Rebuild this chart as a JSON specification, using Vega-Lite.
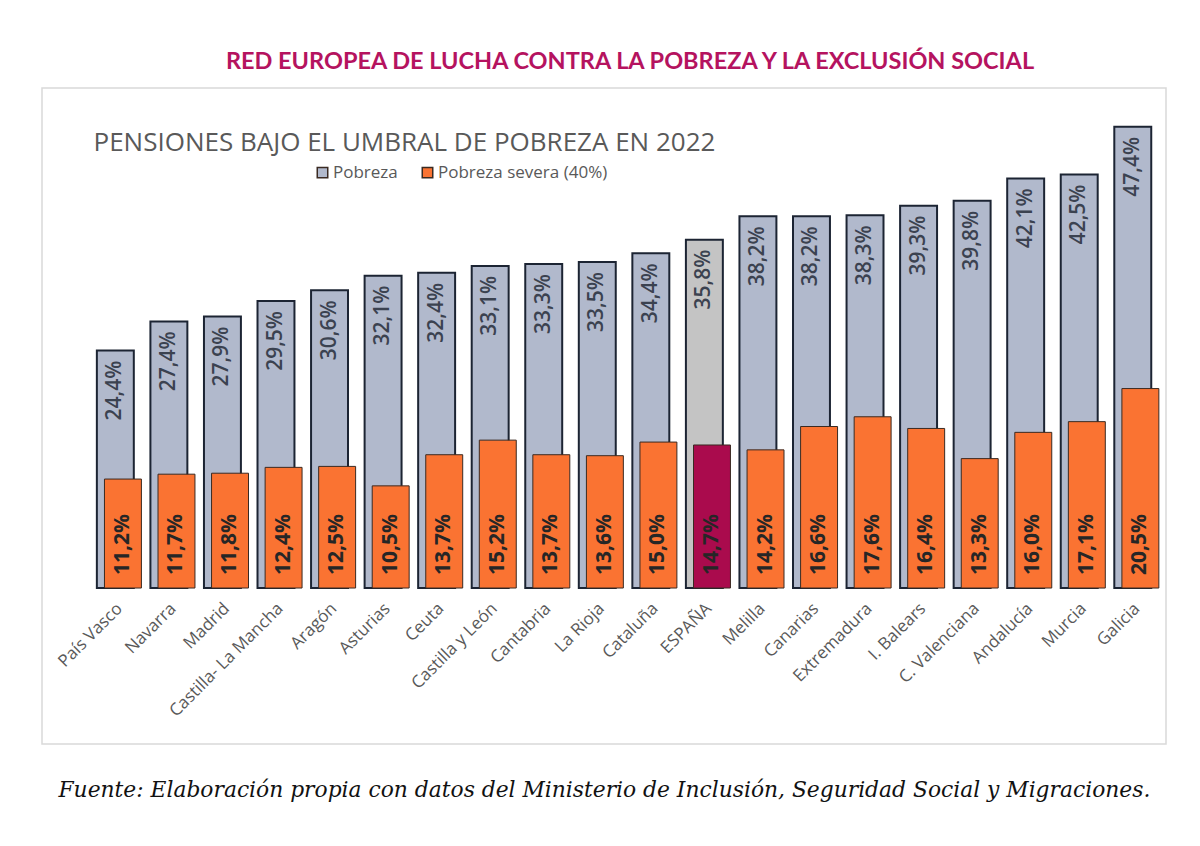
{
  "$schema": "https://vega.github.io/schema/vega-lite/v6.json",
  "width": 1124,
  "height": 656,
  "autosize": {"type": "none"},
  "padding": {"left": 42, "top": 88, "right": 34, "bottom": 102},
  "background": "white",
  "title": {
    "text": "RED EUROPEA DE LUCHA CONTRA LA POBREZA Y LA EXCLUSIÓN SOCIAL",
    "anchor": "middle",
    "dx": 26,
    "offset": -4,
    "baseline": "alphabetic",
    "font": "Lato",
    "fontSize": 23.5,
    "fontWeight": "bold",
    "color": "#B5135F"
  },
  "data": {
    "values": [
      {"region": "País Vasco", "pobreza": 0.244, "severa": 0.112},
      {"region": "Navarra", "pobreza": 0.274, "severa": 0.117},
      {"region": "Madrid", "pobreza": 0.279, "severa": 0.118},
      {"region": "Castilla- La Mancha", "pobreza": 0.295, "severa": 0.124},
      {"region": "Aragón", "pobreza": 0.306, "severa": 0.125},
      {"region": "Asturias", "pobreza": 0.321, "severa": 0.105},
      {"region": "Ceuta", "pobreza": 0.324, "severa": 0.137},
      {"region": "Castilla y León", "pobreza": 0.331, "severa": 0.152},
      {"region": "Cantabria", "pobreza": 0.333, "severa": 0.137},
      {"region": "La Rioja", "pobreza": 0.335, "severa": 0.136},
      {"region": "Cataluña", "pobreza": 0.344, "severa": 0.150},
      {"region": "ESPAÑA", "pobreza": 0.358, "severa": 0.147},
      {"region": "Melilla", "pobreza": 0.382, "severa": 0.142},
      {"region": "Canarias", "pobreza": 0.382, "severa": 0.166},
      {"region": "Extremadura", "pobreza": 0.383, "severa": 0.176},
      {"region": "I. Balears", "pobreza": 0.393, "severa": 0.164},
      {"region": "C. Valenciana", "pobreza": 0.398, "severa": 0.133},
      {"region": "Andalucía", "pobreza": 0.421, "severa": 0.160},
      {"region": "Murcia", "pobreza": 0.425, "severa": 0.171},
      {"region": "Galicia", "pobreza": 0.474, "severa": 0.205}
    ]
  },
  "encoding": {
    "x": {
      "field": "region",
      "type": "nominal",
      "sort": null,
      "scale": {"paddingInner": 0, "paddingOuter": 0.495, "align": 0.95},
      "axis": {
        "title": "Fuente: Elaboración propia con datos del Ministerio de Inclusión, Seguridad Social y Migraciones.",
        "labelAngle": -45,
        "labelFont": "Open Sans",
        "labelFontSize": 17,
        "labelColor": "#595959",
        "labelOverlap": false,
        "labelBound": false,
        "labelOffset": -5,
        "domain": false,
        "ticks": false,
        "grid": false,
        "labelPadding": 12,
        "offset": -156,
        "titleX": 16,
        "titleY": 208,
        "titleAlign": "left",
        "titleAnchor": null,
        "titleBaseline": "alphabetic",
        "titleFont": "DejaVu Serif",
        "titleFontStyle": "italic",
        "titleFontWeight": "normal",
        "titleFontSize": 21.8,
        "titleColor": "#111111"
      }
    }
  },
  "layer": [
    {
      "mark": {"type": "bar", "width": {"band": 0.69}, "xOffset": -3.8, "stroke": "#1C2433", "strokeWidth": 2},
      "encoding": {
        "y": {
          "field": "pobreza",
          "type": "quantitative",
          "title": "PENSIONES BAJO EL UMBRAL DE POBREZA EN 2022",
          "scale": {"domain": [-0.1603, 0.5139], "nice": false}
        },
        "color": {
          "condition": {"test": "datum.region === 'ESPAÑA'", "value": "#C4C4C4"},
          "datum": "Pobreza",
          "type": "nominal",
          "scale": {"domain": ["Pobreza", "Pobreza severa (40%)"], "range": ["#B1B9CC", "#FA7332"]},
          "legend": {
            "orient": "none",
            "legendX": 272,
            "legendY": 76,
            "direction": "horizontal",
            "title": null,
            "symbolType": "square",
            "symbolSize": 110,
            "symbolStrokeColor": "#333333",
            "symbolStrokeWidth": 1.5,
            "symbolOpacity": 1,
            "labelFont": "Open Sans",
            "labelFontSize": 17,
            "labelColor": "#595959",
            "labelLimit": 400,
            "columnPadding": 21,
            "labelOffset": 2
          }
        }
      }
    },
    {
      "mark": {"type": "bar", "width": {"band": 0.69}, "xOffset": 3.8, "stroke": "#3A2A22", "strokeWidth": 1},
      "encoding": {
        "y": {"field": "severa", "type": "quantitative", "title": "PENSIONES BAJO EL UMBRAL DE POBREZA EN 2022"},
        "color": {
          "condition": {"test": "datum.region === 'ESPAÑA'", "value": "#AA0B4D"},
          "datum": "Pobreza severa (40%)",
          "type": "nominal"
        }
      }
    },
    {
      "mark": {"type": "text", "angle": 270, "align": "right", "baseline": "middle", "dx": -10, "xOffset": -3.8, "font": "Open Sans", "fontSize": 21, "fontWeight": 600, "fill": "#3B4250"},
      "encoding": {
        "y": {"field": "pobreza", "type": "quantitative", "title": "PENSIONES BAJO EL UMBRAL DE POBREZA EN 2022"},
        "text": {"field": "pobreza", "type": "quantitative", "format": ".1%"}
      }
    },
    {
      "mark": {"type": "text", "angle": 270, "align": "left", "baseline": "middle", "dx": 13, "xOffset": 3.8, "font": "Open Sans", "fontSize": 21, "fontWeight": "bold", "fill": "#262626"},
      "encoding": {
        "y": {"datum": 0, "type": "quantitative", "title": "PENSIONES BAJO EL UMBRAL DE POBREZA EN 2022"},
        "text": {"field": "severa", "type": "quantitative", "format": ".1%"}
      }
    }
  ],
  "config": {
    "locale": {"number": {"decimal": ",", "thousands": ".", "grouping": [3], "currency": ["", " €"]}},
    "view": {"stroke": "#D9D9D9", "strokeWidth": 1.5},
    "axisY": {
      "labels": false,
      "ticks": false,
      "domain": false,
      "grid": false,
      "titleAngle": 0,
      "titleAlign": "left",
      "titleBaseline": "alphabetic",
      "titleX": 51,
      "titleY": 62,
      "titleFont": "Open Sans",
      "titleFontSize": 26,
      "titleFontWeight": "normal",
      "titleColor": "#595959"
    }
  }
}
